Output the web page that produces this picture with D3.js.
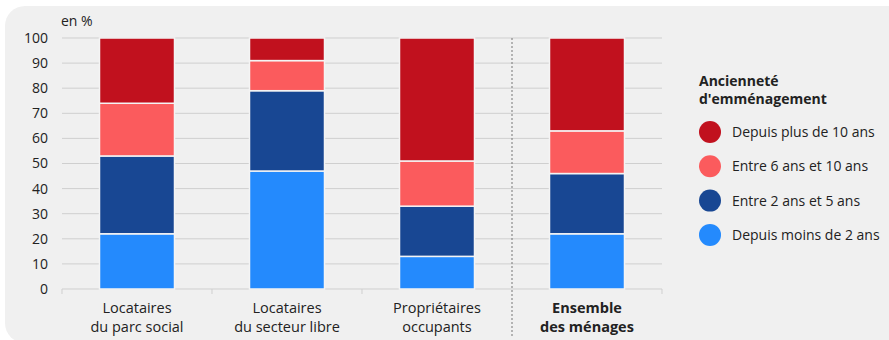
<!DOCTYPE html>
<html>
<head>
<meta charset="utf-8">
<script src="https://cdn.jsdelivr.net/npm/d3@7"></script>
<style>
  body { margin: 0; background: #fff; font-family: "Open Sans", sans-serif; }
</style>
</head>
<body>
<div id="chart"></div>
<script>
var categories = [
  ["Locataires", "du parc social"],
  ["Locataires", "du secteur libre"],
  ["Propriétaires", "occupants"],
  ["Ensemble", "des ménages"]
];
var seriesNames = ["Depuis moins de 2 ans", "Entre 2 ans et 5 ans", "Entre 6 ans et 10 ans", "Depuis plus de 10 ans"];
var moins2 = [22, 47, 13, 22];
var de2a5 = [31, 32, 20, 24];
var de6a10 = [21, 12, 18, 17];
var plus10 = [26, 9, 49, 37];
var yTicks = [0, 10, 20, 30, 40, 50, 60, 70, 80, 90, 100];
var colors = ["#248afd", "#184793", "#fb5b5d", "#c1111e"];

var W = 889, H = 340;
var margin = { top: 38, right: 227, bottom: 51, left: 62 },
  width = W - margin.left - margin.right,
  height = H - margin.top - margin.bottom;

var svg = d3.select("#chart").append("svg")
  .attr("width", W).attr("height", H);

svg.append("rect")
  .attr("x", 5).attr("y", 6)
  .attr("width", 910).attr("height", 337)
  .attr("rx", 20)
  .attr("fill", "#f0f0f0");

var g = svg.append("g")
  .attr("transform", "translate(" + margin.left + "," + margin.top + ")");

var idx = d3.range(categories.length);
var x = d3.scaleBand().domain(idx).range([0, width]).paddingInner(0.5).paddingOuter(0.25);
var y = d3.scaleLinear().domain([0, 100]).range([height, 0]);

// grid
g.selectAll(".grid").data(yTicks).enter().append("line")
  .attr("x1", 0).attr("x2", width)
  .attr("y1", function (d) { return y(d); })
  .attr("y2", function (d) { return y(d); })
  .attr("stroke", "#cfcfcf").attr("stroke-width", 1);

// y axis labels
var yAxis = g.append("g").call(d3.axisLeft(y).tickValues(yTicks).tickSize(0).tickPadding(14));
yAxis.select(".domain").remove();
yAxis.selectAll("text").attr("font-family", "Open Sans").attr("font-size", 14).attr("fill", "#222");

g.append("text").attr("x", -1).attr("y", -12)
  .attr("font-size", 14).attr("fill", "#222").text("en %");

// bottom ticks between categories
var step = x.step();
var tickPos = [0, step, 2 * step, width];
g.selectAll(".xt").data(tickPos).enter().append("line")
  .attr("x1", function (d) { return d; }).attr("x2", function (d) { return d; })
  .attr("y1", height).attr("y2", height + 5)
  .attr("stroke", "#cfcfcf");

// stacked bars
var rows = idx.map(function (i) {
  return { i: i, a: moins2[i], b: de2a5[i], c: de6a10[i], d: plus10[i] };
});
var stack = d3.stack().keys(["a", "b", "c", "d"]);
var layers = stack(rows);

g.selectAll(".layer").data(layers).enter().append("g")
  .attr("fill", function (d, k) { return colors[k]; })
  .selectAll("rect").data(function (d) { return d; }).enter().append("rect")
  .attr("x", function (d) { return x(d.data.i); })
  .attr("width", x.bandwidth())
  .attr("y", function (d) { return y(d[1]); })
  .attr("height", function (d) { return y(d[0]) - y(d[1]); })
  .attr("stroke", "#f4f4f4").attr("stroke-width", 1.5);

// separator
g.append("line")
  .attr("x1", 3 * step).attr("x2", 3 * step)
  .attr("y1", 0).attr("y2", 298)
  .attr("stroke", "#777").attr("stroke-width", 1)
  .attr("stroke-dasharray", "2,2");

// category labels
var labels = g.selectAll(".cat").data(categories).enter().append("text")
  .attr("text-anchor", "middle")
  .attr("font-size", 14.5)
  .attr("fill", "#222")
  .attr("font-weight", function (d, i) { return i === 3 ? "bold" : "normal"; })
  .attr("transform", function (d, i) { return "translate(" + (x(i) + x.bandwidth() / 2) + "," + (height + 24) + ")"; });
labels.selectAll("tspan").data(function (d) { return d; }).enter().append("tspan")
  .attr("x", 0).attr("dy", function (d, j) { return j === 0 ? 0 : 19; })
  .text(function (d) { return d; });

// legend
var legend = svg.append("g").attr("transform", "translate(699,0)");
legend.append("text").attr("x", 0).attr("y", 86)
  .attr("font-size", 14).attr("font-weight", "bold").attr("fill", "#222")
  .text("Ancienneté");
legend.append("text").attr("x", 0).attr("y", 104)
  .attr("font-size", 14).attr("font-weight", "bold").attr("fill", "#222")
  .text("d'emménagement");

var legendOrder = [3, 2, 1, 0];
var li = legend.selectAll(".li").data(legendOrder).enter().append("g")
  .attr("transform", function (d, k) { return "translate(0," + (132 + k * 34.3) + ")"; });
li.append("circle").attr("cx", 11).attr("cy", 0).attr("r", 11)
  .attr("fill", function (d) { return colors[d]; });
li.append("text").attr("x", 33).attr("y", 5)
  .attr("font-size", 14).attr("fill", "#222")
  .text(function (d) { return seriesNames[d]; });
</script>
</body>
</html>
